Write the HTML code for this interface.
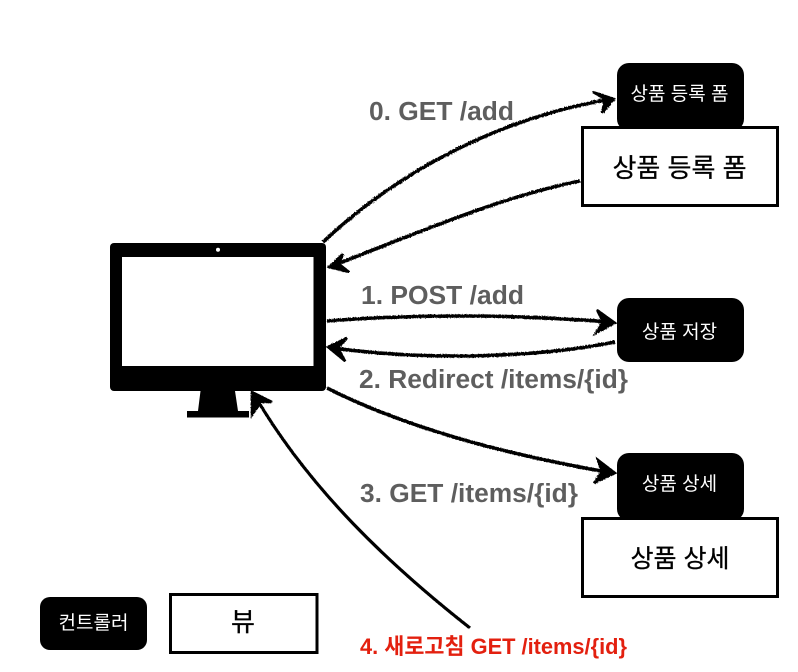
<!DOCTYPE html>
<html><head><meta charset="utf-8"><style>
html,body{margin:0;padding:0;background:#fff}
svg{display:block}
text{font-family:"Liberation Sans","Noto Sans CJK KR",sans-serif}
</style></head><body>
<svg xmlns="http://www.w3.org/2000/svg" width="798" height="672" viewBox="0 0 798 672">
<defs><filter id="r" x="-5%" y="-5%" width="110%" height="110%"><feTurbulence type="fractalNoise" baseFrequency="0.7" numOctaves="2" seed="3"/><feDisplacementMap in="SourceGraphic" scale="2"/></filter></defs>
<rect width="798" height="672" fill="#fff"/>
<!-- monitor -->
<rect x="110" y="243" width="216" height="148" rx="4" fill="#000"/>
<rect x="122" y="257" width="191.500" height="109" fill="#fff"/>
<circle cx="218" cy="249.700" r="2" fill="#fff"/>
<path d="M200.500 391H235L238 411H198Z" fill="#000"/>
<rect x="187" y="411" width="62" height="6.500" fill="#000"/>
<!-- boxes -->
<rect x="617" y="63" width="127" height="68" rx="12" fill="#000"/>
<rect x="582.500" y="127.500" width="195" height="78" fill="#fff" stroke="#000" stroke-width="3"/>
<rect x="617" y="298" width="127" height="64" rx="12" fill="#000"/>
<rect x="617" y="453" width="127" height="68" rx="12" fill="#000"/>
<rect x="582.500" y="518.500" width="195" height="78" fill="#fff" stroke="#000" stroke-width="3"/>
<rect x="40" y="597" width="107" height="53" rx="10" fill="#000"/>
<rect x="170.500" y="594.500" width="146.500" height="58" fill="#fff" stroke="#000" stroke-width="3"/>
<!-- arrows -->
<g filter="url(#r)" fill="none" stroke="#000" stroke-width="3.600">
<path d="M323 242C400 170 500 118 611 99"/>
<path d="M593 92L614 99L602 113L605 99Z" fill="#000" stroke-width="2.500"/>
<path d="M580 181C500 197 420 232 332 266"/>
<path d="M329 267L343 254L339 264L349 272Z" fill="#000" stroke-width="2.500"/>
<path d="M327 321C375 317 425 316 470 316C520 316 570 319 612 322"/>
<path d="M597 310L615 323L596 333L603 322Z" fill="#000" stroke-width="2.500"/>
<path d="M615 342C560 353 505 356 453 356C410 356 370 353 332 348"/>
<path d="M328 347L347 338L338 348L345 361Z" fill="#000" stroke-width="2.500"/>
<path d="M327 388C410 430 510 455 612 473"/>
<path d="M598 460L615 473L594 483L602 472Z" fill="#000" stroke-width="2.500"/>
<path d="M470 628C390 565 310 490 255 396" stroke-width="3.200"/>
<path d="M252 392L272 402L261 402L252 415Z" fill="#000" stroke-width="2.500"/>
</g>
<!-- labels -->
<g font-weight="700" font-size="25.500" fill="#5e5e5e">
<text x="369" y="120" textLength="145" lengthAdjust="spacingAndGlyphs">0. GET /add</text>
<text x="361" y="304" textLength="163" lengthAdjust="spacingAndGlyphs">1. POST /add</text>
<text x="359" y="388" textLength="269" lengthAdjust="spacingAndGlyphs">2. Redirect /items/{id}</text>
<text x="360" y="502" textLength="218" lengthAdjust="spacingAndGlyphs">3. GET /items/{id}</text>
</g>
<text x="360" y="654" font-size="22" font-weight="700" fill="#e3200f" textLength="267" lengthAdjust="spacingAndGlyphs">4. 새로고침 GET /items/{id}</text>
<g text-anchor="middle" fill="#fff" font-size="19">
<text x="679.500" y="100">상품 등록 폼</text>
<text x="679.500" y="338">상품 저장</text>
<text x="679.500" y="490">상품 상세</text>
<text x="93.500" y="629">컨트롤러</text>
</g>
<g text-anchor="middle" fill="#000" font-size="26" stroke="#000" stroke-width="0.300">
<text x="679.500" y="177">상품 등록 폼</text>
<text x="680" y="567" font-size="25">상품 상세</text>
<text x="243" y="631">뷰</text>
</g>
</svg>
</body></html>
